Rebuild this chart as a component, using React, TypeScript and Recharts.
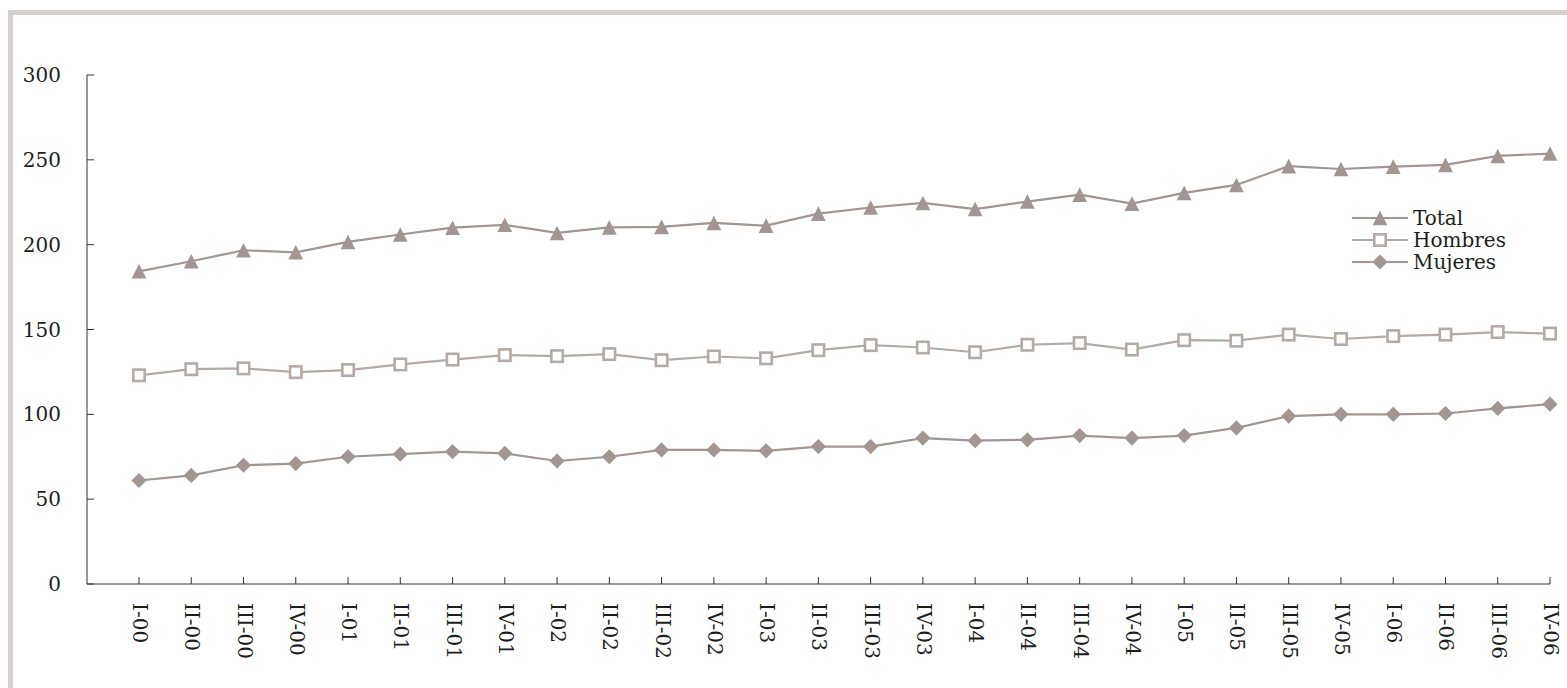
import React from 'react';
import { LineChart, Line, XAxis, YAxis, Legend } from 'recharts';

if (typeof document !== 'undefined') {
  document.body.style.margin = '0';
  document.documentElement.style.overflow = 'hidden';
}

const categories = [
  'I-00', 'II-00', 'III-00', 'IV-00',
  'I-01', 'II-01', 'III-01', 'IV-01',
  'I-02', 'II-02', 'III-02', 'IV-02',
  'I-03', 'II-03', 'III-03', 'IV-03',
  'I-04', 'II-04', 'III-04', 'IV-04',
  'I-05', 'II-05', 'III-05', 'IV-05',
  'I-06', 'II-06', 'III-06', 'IV-06',
];

const total = [
  184.3, 190.2, 196.7, 195.5,
  201.6, 206.0, 210.0, 211.7,
  206.9, 210.2, 210.5, 212.8,
  211.2, 218.3, 221.9, 224.6,
  221.0, 225.4, 229.5, 224.2,
  230.5, 235.2, 246.3, 244.6,
  246.0, 247.0, 252.3, 253.7,
];

const hombres = [
  123.0, 126.6, 127.1, 124.9,
  126.1, 129.4, 132.3, 134.9,
  134.3, 135.5, 131.9, 134.1,
  133.0, 137.8, 140.8, 139.4,
  136.6, 141.0, 142.0, 138.2,
  143.7, 143.4, 147.0, 144.4,
  146.1, 147.0, 148.5, 147.6,
];

const mujeres = [
  61.0, 64.0, 70.0, 71.0,
  75.0, 76.5, 78.0, 77.0,
  72.5, 75.0, 79.0, 79.0,
  78.5, 81.0, 81.0, 86.0,
  84.5, 85.0, 87.5, 86.0,
  87.5, 92.0, 99.0, 100.0,
  100.0, 100.5, 103.5, 106.0,
];

const yTicks = [0, 50, 100, 150, 200, 250, 300];

const seriesNames = ['Total', 'Hombres', 'Mujeres'];

const data = categories.map((cat, i) => ({
  cat,
  total: total[i],
  hombres: hombres[i],
  mujeres: mujeres[i],
}));

const FONT = '"DejaVu Serif", serif';
const FONT_SIZE = 20;
const TEXT = '#1e1e1e';
const AXIS = '#333333';
const C_TOTAL = '#a3958f';
const C_HOMBRES = '#b6aba4';
const C_MUJERES = '#a3958f';
const LINE_W = 2.2;

type Shape = 'triangle' | 'square' | 'diamond';

const series: { key: string; name: string; color: string; shape: Shape }[] = [
  { key: 'total', name: seriesNames[0], color: C_TOTAL, shape: 'triangle' },
  { key: 'hombres', name: seriesNames[1], color: C_HOMBRES, shape: 'square' },
  { key: 'mujeres', name: seriesNames[2], color: C_MUJERES, shape: 'diamond' },
];

function Marker({ shape, cx, cy, color }: { shape: Shape; cx: number; cy: number; color: string }) {
  if (cx == null || cy == null) return null;
  if (shape === 'triangle') {
    const w = 7.4;
    const h = 7.3;
    return (
      <polygon
        points={`${cx},${cy - h} ${cx - w},${cy + h} ${cx + w},${cy + h}`}
        fill={color}
        stroke="none"
      />
    );
  }
  if (shape === 'square') {
    const s = 5.7;
    return (
      <rect
        x={cx - s}
        y={cy - s}
        width={2 * s}
        height={2 * s}
        fill="#ffffff"
        stroke={color}
        strokeWidth={2.6}
      />
    );
  }
  const d = 7.6;
  return (
    <polygon
      points={`${cx},${cy - d} ${cx + d},${cy} ${cx},${cy + d} ${cx - d},${cy}`}
      fill={color}
      stroke="none"
    />
  );
}

const makeDot = (shape: Shape, color: string) => (p: any) => (
  <g key={`${shape}-${p.index}`}>
    <Marker shape={shape} cx={p.cx} cy={p.cy} color={color} />
  </g>
);

const XTick = (props: any) => {
  const { x, y, payload } = props;
  return (
    <text
      x={x}
      y={y}
      transform={`rotate(90 ${x} ${y})`}
      dy="0.3em"
      textAnchor="start"
      fontFamily={FONT}
      fontSize={FONT_SIZE}
      fill={TEXT}
    >
      {payload.value}
    </text>
  );
};

const renderLegend = () => (
  <div style={{ display: 'flex', flexDirection: 'column', fontFamily: FONT }}>
    {series.map((s) => (
      <div key={s.key} style={{ display: 'flex', alignItems: 'center', height: 22 }}>
        <svg width={56} height={22} style={{ display: 'block' }}>
          <line x1={0} x2={56} y1={11} y2={11} stroke={s.color} strokeWidth={LINE_W} />
          <Marker shape={s.shape} cx={28} cy={11} color={s.color} />
        </svg>
        <span style={{ marginLeft: 5, fontSize: FONT_SIZE, color: TEXT, lineHeight: '22px', whiteSpace: 'nowrap' }}>
          {s.name}
        </span>
      </div>
    ))}
  </div>
);

export default function App() {
  return (
    <div style={{ position: 'relative', width: 1567, height: 688, fontFamily: FONT, overflow: 'hidden' }}>
      <div
        style={{
          position: 'absolute',
          left: 8,
          top: 10,
          width: 1640,
          height: 760,
          borderTop: '5px solid #d6cfcb',
          borderLeft: '5px solid #d6cfcb',
          boxSizing: 'border-box',
          pointerEvents: 'none',
        }}
      />
      <div style={{ position: 'absolute', left: 0, top: 0 }}>
        <LineChart
          width={1567}
          height={688}
          data={data}
          margin={{ top: 75, right: 17, bottom: 0, left: 0 }}
        >
          <XAxis
            dataKey="cat"
            type="category"
            interval={0}
            padding={{ left: 52, right: 0 }}
            height={104}
            tickSize={-7}
            tickMargin={26}
            tick={XTick}
            axisLine={{ stroke: AXIS, strokeWidth: 1 }}
            tickLine={{ stroke: AXIS, strokeWidth: 1 }}
          />
          <YAxis
            type="number"
            domain={[0, 300]}
            ticks={yTicks}
            interval={0}
            width={87}
            tickSize={-7}
            tickMargin={33}
            tick={{ fill: TEXT, fontSize: FONT_SIZE, fontFamily: FONT }}
            axisLine={{ stroke: AXIS, strokeWidth: 1 }}
            tickLine={{ stroke: AXIS, strokeWidth: 1 }}
          />
          <Legend
            layout="vertical"
            align="center"
            verticalAlign="middle"
            content={renderLegend}
            wrapperStyle={{ left: 1352, top: 207, width: 'auto', height: 'auto' }}
          />
          {series.map((s) => (
            <Line
              key={s.key}
              dataKey={s.key}
              name={s.name}
              type="linear"
              stroke={s.color}
              strokeWidth={LINE_W}
              dot={makeDot(s.shape, s.color)}
              activeDot={false}
              isAnimationActive={false}
            />
          ))}
        </LineChart>
      </div>
    </div>
  );
}
